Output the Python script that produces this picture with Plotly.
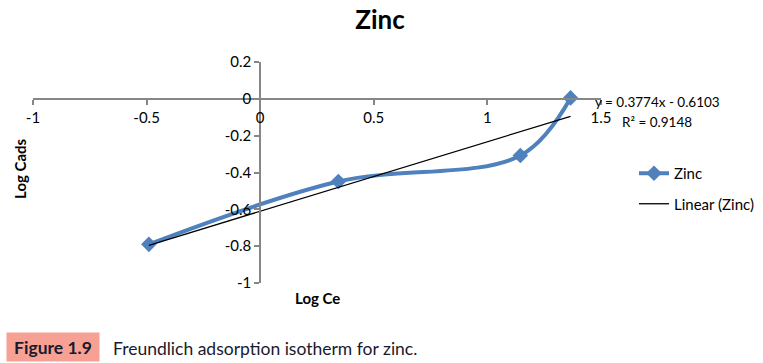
import plotly.graph_objects as go

log_ce = [-0.49, 0.344, 1.145, 1.366]
log_cads = [-0.79, -0.449, -0.308, 0.005]
slope = 0.3774
intercept = -0.6103
r2 = 0.9148
x_ticks = [-1, -0.5, 0, 0.5, 1, 1.5]
y_ticks = [-1, -0.8, -0.6, -0.4, -0.2, 0, 0.2]

font = "Lato"
trend_x = [min(log_ce), max(log_ce)]
trend_y = [slope * v + intercept for v in trend_x]

L, T, PW, PH = 33, 62, 568, 221


def px(xp):
    return (xp - L) / PW


def py(yp):
    return (T + PH - yp) / PH


fig = go.Figure()
fig.add_trace(go.Scatter(
    x=log_ce, y=log_cads, mode="lines+markers", name="Zinc", legendgroup="data",
    line=dict(color="#4F81BD", width=4, shape="spline", smoothing=1),
    marker=dict(symbol="diamond", size=12, color="#4F81BD"),
))
fig.add_trace(go.Scatter(
    x=trend_x, y=trend_y, mode="lines", name="Linear (Zinc)", legendgroup="fit",
    line=dict(color="black", width=1.3),
))

axis_common = dict(showgrid=False, zeroline=False, showline=True, linecolor="#868686", linewidth=2,
                   ticks="outside", ticklen=5, tickcolor="#868686", tickwidth=2,
                   tickfont=dict(size=15, family=font, color="black"))

fig.update_layout(
    width=763, height=363,
    margin=dict(l=L, r=763 - L - PW, t=T, b=363 - T - PH, autoexpand=False),
    paper_bgcolor="white", plot_bgcolor="white",
    font=dict(family=font, size=15, color="black"),
    title=dict(text="<b>Zinc</b>", x=0.498, xanchor="center", y=1 - 20 / 363, yanchor="middle",
               font=dict(size=26, family=font)),
    showlegend=True,
    legend=dict(x=px(634), y=py(157), xanchor="left", yanchor="top", tracegroupgap=8,
                font=dict(size=15, family=font), bgcolor="rgba(0,0,0,0)"),
    xaxis=dict(range=[-1, 1.5], tickvals=x_ticks, ticktext=[f"{v:g}" for v in x_ticks],
               anchor="free", position=(0 - (-1)) / 1.2, **axis_common),
    yaxis=dict(range=[-1, 0.2], tickvals=y_ticks, ticktext=[f"{v:g}" for v in y_ticks],
               anchor="free", position=(0 - (-1)) / 2.5, **axis_common),
)

fig.add_annotation(text=f"y = {slope}x - {abs(intercept)}", xref="paper", yref="paper",
                   x=px(657), y=py(102), xanchor="center", yanchor="middle", showarrow=False,
                   font=dict(size=13.5, family=font))
fig.add_annotation(text=f"R² = {r2}", xref="paper", yref="paper",
                   x=px(657), y=py(122), xanchor="center", yanchor="middle", showarrow=False,
                   font=dict(size=13.5, family=font))
fig.add_annotation(text="<b>Log Cads</b>", xref="paper", yref="paper",
                   x=px(20), y=py(169), xanchor="center", yanchor="middle", textangle=-90,
                   showarrow=False, font=dict(size=15, family=font))
fig.add_annotation(text="<b>Log Ce</b>", xref="paper", yref="paper",
                   x=px(317), y=py(298), xanchor="center", yanchor="middle", showarrow=False,
                   font=dict(size=15, family=font))
fig.add_annotation(text="<b>Figure 1.9</b>", xref="paper", yref="paper",
                   x=px(53), y=py(347), xanchor="center", yanchor="middle", showarrow=False,
                   font=dict(size=17.5, family=font, color="#1a1a2e"),
                   bgcolor="#F6A193", borderpad=0, width=92, height=28)
fig.add_annotation(text="Freundlich adsorption isotherm for zinc.", xref="paper", yref="paper",
                   x=px(111), y=py(348), xanchor="left", yanchor="middle", showarrow=False,
                   font=dict(size=17.5, family=font, color="#1a1a2e"))

fig.write_html("out.html", post_script="document.body.style.margin='0';",
               config={"displayModeBar": False})
